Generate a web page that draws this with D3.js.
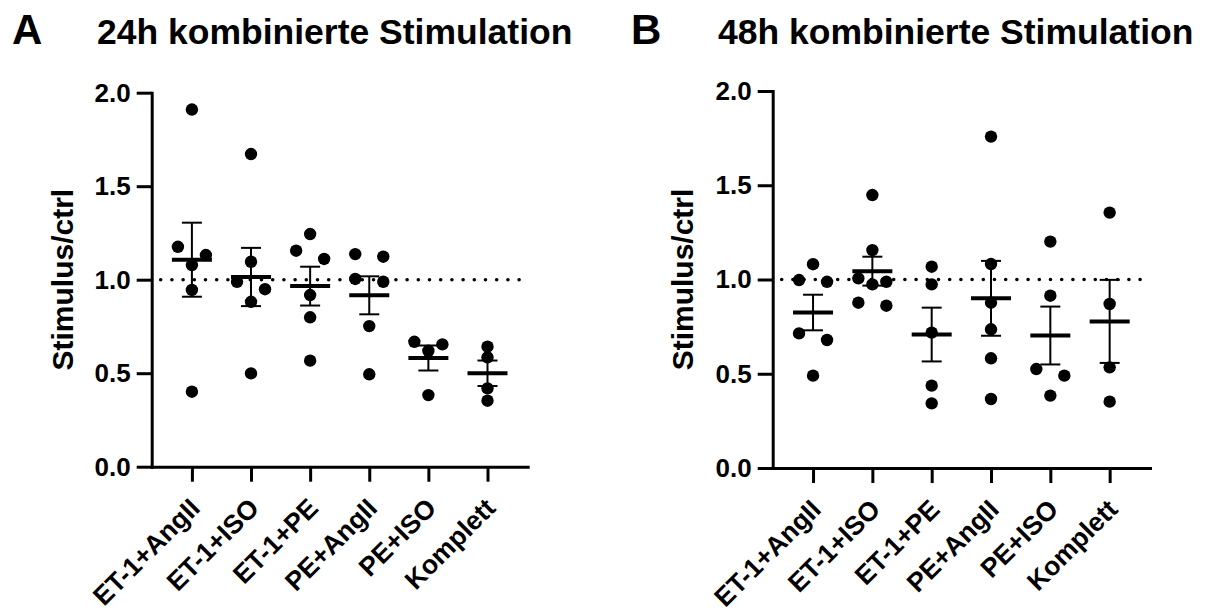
<!DOCTYPE html>
<html>
<head>
<meta charset="utf-8">
<script src="https://cdn.jsdelivr.net/npm/d3@7"></script>
<style>
  html, body { margin: 0; padding: 0; background: #ffffff; }
  svg { display: block; }
  text { font-family: "Liberation Sans", Arial, Helvetica, sans-serif; font-weight: bold; fill: #000; }
</style>
</head>
<body>
<svg id="chart" width="1211" height="614"></svg>
<script>
// ---------------- data ----------------
const categories = ["ET-1+AngII", "ET-1+ISO", "ET-1+PE", "PE+AngII", "PE+ISO", "Komplett"];

const values24h = [
  [1.910, 1.176, 1.132, 1.078, 0.945, 0.401],
  [1.672, 1.096, 0.989, 0.949, 0.882, 0.499],
  [1.244, 1.155, 1.111, 0.918, 0.799, 0.567],
  [1.137, 1.123, 1.004, 0.989, 0.752, 0.494],
  [0.668, 0.654, 0.620, 0.383],
  [0.642, 0.585, 0.419, 0.353]
];

const values48h = [
  [1.081, 0.997, 0.988, 0.714, 0.679, 0.490],
  [1.448, 1.156, 1.006, 0.988, 0.974, 0.877, 0.861],
  [1.068, 0.974, 0.718, 0.437, 0.343],
  [1.758, 1.082, 0.877, 0.736, 0.582, 0.366],
  [1.201, 0.914, 0.525, 0.490, 0.384],
  [1.355, 0.870, 0.534, 0.352]
];

const yTickValues = [0, 0.5, 1.0, 1.5, 2.0];
const yDomain = [0, 2];
const referenceValue = 1.0;
const panelLetters = ["A", "B"];
const panelTitles = ["24h kombinierte Stimulation", "48h kombinierte Stimulation"];
const yAxisTitle = "Stimulus/ctrl";

// ---------------- layout ----------------
const svg = d3.select("#chart");
const layouts = [
  { x0: 151.7, x1: 527.7, yTop: 92.7, yBot: 466.7, letterX: 12, titleX: 97, yTitleX: 73 },
  { x0: 772.7, x1: 1150, yTop: 91, yBot: 468, letterX: 631, titleX: 718, yTitleX: 693 }
];
const datasets = [values24h, values48h];

const dotR = 6.2;
const jitterStep = 14;
const clusterGap = 10.5;
const meanHalf = 20;
const capHalf = 10;

function swarmOffsets(vals, y) {
  // cluster points whose pixel gaps are small, then spread them symmetrically
  const idx = vals.map((v, i) => i).sort((a, b) => vals[b] - vals[a]);
  const offs = new Array(vals.length).fill(0);
  let cluster = [idx[0]];
  const flush = (c) => {
    const k = c.length;
    let pattern;
    if (k === 1) pattern = [0];
    else if (k === 2) pattern = [-1, 1];
    else if (k === 3) pattern = [-1, 1, 0];
    else pattern = c.map((_, i) => i - (k - 1) / 2);
    c.forEach((ii, j) => offs[ii] = pattern[j] * jitterStep);
  };
  for (let j = 1; j < idx.length; j++) {
    const prev = idx[j - 1], cur = idx[j];
    if (Math.abs(y(vals[prev]) - y(vals[cur])) < clusterGap) cluster.push(cur);
    else { flush(cluster); cluster = [cur]; }
  }
  flush(cluster);
  return offs;
}

datasets.forEach((data, pi) => {
  const L = layouts[pi];
  const g = svg.append("g");

  const x = d3.scalePoint().domain(categories).range([L.x0, L.x1]).padding(0.68);
  const y = d3.scaleLinear().domain(yDomain).range([L.yBot, L.yTop]);

  // panel letter + title
  g.append("text").attr("x", L.letterX).attr("y", 44).style("font-size", "42px").text(panelLetters[pi]);
  g.append("text").attr("x", L.titleX).attr("y", 44).style("font-size", "35.5px").text(panelTitles[pi]);

  // y axis
  const yAxis = d3.axisLeft(y).tickValues(yTickValues).tickFormat(d3.format(".1f"))
    .tickSize(15).tickSizeOuter(0).tickPadding(6);
  const yg = g.append("g").attr("transform", `translate(${L.x0},0)`).call(yAxis);
  yg.selectAll("path.domain").attr("stroke", "#000").attr("stroke-width", 3).attr("stroke-linecap", "square");
  yg.selectAll(".tick line").attr("stroke", "#000").attr("stroke-width", 3);
  yg.selectAll(".tick text").style("font-size", "26px").style("font-family", "Liberation Sans, Arial, sans-serif").style("font-weight", "bold");

  // x axis
  const xAxis = d3.axisBottom(x).tickSize(15).tickSizeOuter(0).tickFormat(d => d);
  const xg = g.append("g").attr("transform", `translate(0,${L.yBot})`).call(xAxis);
  xg.selectAll("path.domain").attr("stroke", "#000").attr("stroke-width", 3).attr("stroke-linecap", "square");
  xg.selectAll(".tick line").attr("stroke", "#000").attr("stroke-width", 3);
  xg.selectAll(".tick text")
    .style("font-size", "26.5px").style("font-family", "Liberation Sans, Arial, sans-serif").style("font-weight", "bold")
    .attr("text-anchor", "end")
    .attr("y", 0).attr("dy", 0)
    .attr("transform", "translate(9,43) rotate(-45)");

  // y axis title
  g.append("text")
    .attr("transform", `translate(${L.yTitleX},${y(referenceValue)}) rotate(-90)`)
    .attr("text-anchor", "middle")
    .style("font-size", "30px")
    .text(yAxisTitle);

  // dotted reference line
  g.append("line")
    .attr("x1", L.x0 + 9).attr("x2", L.x1 - 2)
    .attr("y1", y(referenceValue)).attr("y2", y(referenceValue))
    .attr("stroke", "#000").attr("stroke-width", 3.6)
    .attr("stroke-linecap", "round").attr("stroke-dasharray", "0 11.2");

  // points, mean, SEM
  data.forEach((vals, ci) => {
    const cx = x(categories[ci]);
    const offs = swarmOffsets(vals, y);
    g.selectAll(null).data(vals).enter().append("circle")
      .attr("cx", (d, i) => cx + offs[i])
      .attr("cy", d => y(d))
      .attr("r", dotR)
      .attr("fill", "#000");

    const m = d3.mean(vals);
    const sem = d3.deviation(vals) / Math.sqrt(vals.length);
    // error bar
    g.append("line").attr("x1", cx).attr("x2", cx).attr("y1", y(m - sem)).attr("y2", y(m + sem))
      .attr("stroke", "#000").attr("stroke-width", 2);
    [m - sem, m + sem].forEach(v => {
      g.append("line").attr("x1", cx - capHalf).attr("x2", cx + capHalf).attr("y1", y(v)).attr("y2", y(v))
        .attr("stroke", "#000").attr("stroke-width", 2);
    });
    // mean line
    g.append("line").attr("x1", cx - meanHalf).attr("x2", cx + meanHalf).attr("y1", y(m)).attr("y2", y(m))
      .attr("stroke", "#000").attr("stroke-width", 4);
  });
});
</script>
</body>
</html>
